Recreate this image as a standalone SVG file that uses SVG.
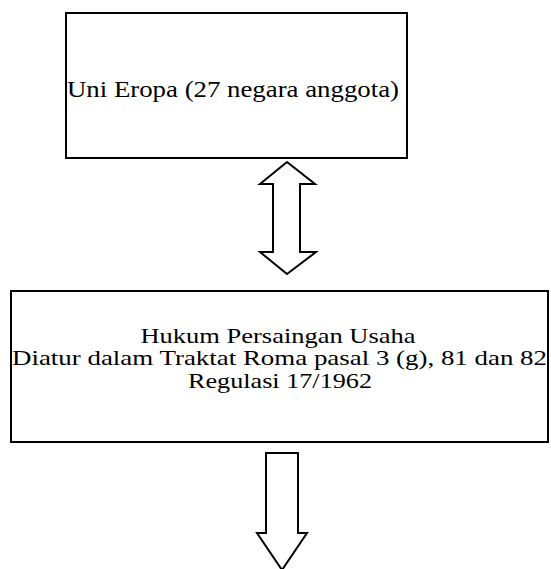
<svg xmlns="http://www.w3.org/2000/svg" width="551" height="569" viewBox="0 0 551 569">
<style>
.box{fill:#fff;stroke:#000;stroke-width:2}
.arr{fill:#fff;stroke:#000;stroke-width:2;stroke-linejoin:miter}
.t{font-family:"Liberation Serif","Times New Roman",serif;font-size:24px;fill:#000}
.s{font-size:21px}
</style>
<rect width="551" height="569" fill="#fff"/>
<g id="node-uni-eropa">
<rect class="box" x="66" y="13" width="341" height="145"/>
<text class="t" x="67" y="97" textLength="332" lengthAdjust="spacingAndGlyphs">Uni Eropa (27 negara anggota)</text>
</g>
<g id="node-hukum">
<rect class="box" x="11" y="291" width="537" height="151"/>
<text class="t s" x="278" y="342.5" text-anchor="middle" textLength="275" lengthAdjust="spacingAndGlyphs">Hukum Persaingan Usaha</text>
<text class="t s" x="12" y="365" textLength="535" lengthAdjust="spacingAndGlyphs">Diatur dalam Traktat Roma pasal 3 (g), 81 dan 82</text>
<text class="t s" x="280" y="387.5" text-anchor="middle" textLength="184" lengthAdjust="spacingAndGlyphs">Regulasi 17/1962</text>
</g>
<g id="connectors">
<polygon class="arr" points="287,162 315,184 300,184 300,252 316,252 287,274 260,252 273,252 273,184 260,184"/>
<polygon class="arr" points="266,453 298,453 298,533 307,533 282,570 257,533 266,533"/>
</g>
</svg>
